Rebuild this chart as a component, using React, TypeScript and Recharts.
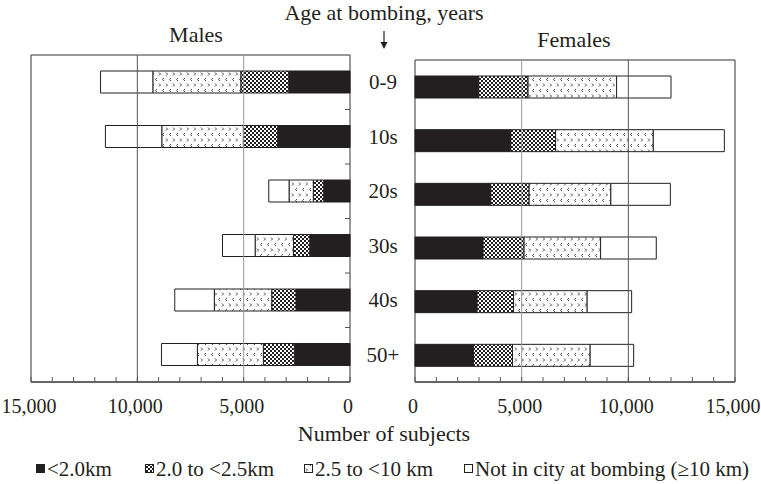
import { BarChart, Bar, XAxis, YAxis, ReferenceLine, ReferenceArea } from 'recharts';

// age at bombing groups (top to bottom)
const ageGroups = ['0-9', '10s', '20s', '30s', '40s', '50+'];

// males, by distance from hypocenter
const maleLt20 = [2880, 3400, 1235, 1890, 2540, 2600];
const male20to25 = [2255, 1615, 490, 770, 1140, 1475];
const male25to10 = [4135, 3835, 1140, 1800, 2700, 3100];
const maleNic = [2460, 2650, 955, 1535, 1860, 1690];

// females
const femaleLt20 = [2990, 4490, 3550, 3190, 2910, 2740];
const female20to25 = [2310, 2100, 1800, 1925, 1710, 1830];
const female25to10 = [4150, 4580, 3830, 3585, 3450, 3640];
const femaleNic = [2550, 3330, 2790, 2610, 2085, 2040];

const xTicks = [0, 1000, 2000, 3000, 4000, 5000, 6000, 7000, 8000, 9000, 10000, 11000, 12000, 13000, 14000, 15000];

const legendItems = [
  { label: '<2.0km', fill: '#231f20' },
  { label: '2.0 to <2.5km', fill: 'url(#hatch)' },
  { label: '2.5 to <10 km', fill: 'url(#chevron)' },
  { label: 'Not in city at bombing (\u226510 km)', fill: '#fff' },
];

const maleData = ageGroups.map((age, i) => ({
  age, lt20: maleLt20[i], d2025: male20to25[i], d2510: male25to10[i], nic: maleNic[i],
}));
const femaleData = ageGroups.map((age, i) => ({
  age, lt20: femaleLt20[i], d2025: female20to25[i], d2510: female25to10[i], nic: femaleNic[i],
}));

const ink = '#231f20';
const FONT = '"Liberation Serif", "Times New Roman", Times, serif';

// left chart layout
const M_H = 440;
const M_MARGIN = { top: 55, right: 0, bottom: 18, left: 31 };
const X_AXIS_H = 40;
const M_PLOT_H = M_H - M_MARGIN.top - M_MARGIN.bottom - X_AXIS_H;

const XTick = ({ x, y, payload }: any) => (
  <g>
    <line x1={x} y1={y} x2={x} y2={y - 5} stroke="#555" />
    {payload.value % 5000 === 0 && (
      <text x={x - 2} y={y + 31} textAnchor="middle" fontSize={20} fontFamily={FONT} fill={ink}>
        {payload.value.toLocaleString('en-US')}
      </text>
    )}
  </g>
);

// age label in the gap, plus a short inward tick on the band's upper edge
const AgeTick = ({ x, y, payload }: any) => {
  const idx = ageGroups.indexOf(payload.value);
  const band = M_PLOT_H / ageGroups.length;
  const edge = y - band / 2;
  return (
    <g>
      {idx > 0 && <line x1={x - 5} y1={edge} x2={x} y2={edge} stroke="#555" />}
      <text x={x + 33} y={y + 7} textAnchor="middle" fontSize={21} fontFamily={FONT} fill={ink}>
        {payload.value}
      </text>
    </g>
  );
};

const bars = [
  <Bar key="a" dataKey="lt20" stackId="s" fill={ink} stroke={ink} barSize={22} isAnimationActive={false} />,
  <Bar key="b" dataKey="d2025" stackId="s" fill="url(#hatch)" stroke={ink} barSize={22} isAnimationActive={false} />,
  <Bar key="c" dataKey="d2510" stackId="s" fill="url(#chevron)" stroke={ink} barSize={22} isAnimationActive={false} />,
  <Bar key="d" dataKey="nic" stackId="s" fill="#fff" stroke={ink} barSize={22} isAnimationActive={false} />,
];

const App = () => {
  return (
    <div style={{ position: 'absolute', left: 0, top: 0, width: 761, height: 484, background: '#fff', fontFamily: FONT }}>
      <svg width={0} height={0} style={{ position: 'absolute' }}>
        <defs>
          <pattern id="hatch" width={4} height={4} patternUnits="userSpaceOnUse">
            <rect width={4} height={4} fill="#fff" />
            <rect x={0} y={0} width={2} height={2} fill={ink} />
            <rect x={2} y={2} width={2} height={2} fill={ink} />
          </pattern>
          <pattern id="chevron" width={7} height={11} patternUnits="userSpaceOnUse">
            <rect width={7} height={11} fill="#fff" />
            <polyline points="3,1 1.5,2.5 3,4" fill="none" stroke="#333" strokeWidth={0.9} />
            <polyline points="5,6.5 6.5,8 5,9.5" fill="none" stroke="#333" strokeWidth={0.9} />
          </pattern>
        </defs>
      </svg>

      <div style={{ position: 'absolute', left: 0, top: 0 }}>
        <BarChart width={415} height={M_H} data={maleData} layout="vertical" margin={M_MARGIN}>
          <XAxis
            type="number"
            domain={[0, 15000]}
            ticks={xTicks}
            reversed
            interval={0}
            height={X_AXIS_H}
            tickLine={false}
            tickSize={0}
            tickMargin={0}
            axisLine={{ stroke: '#333' }}
            tick={<XTick />}
          />
          <YAxis
            type="category"
            dataKey="age"
            orientation="right"
            width={65}
            interval={0}
            axisLine={false}
            tickLine={false}
            tickSize={0}
            tickMargin={0}
            tick={<AgeTick />}
          />
          <ReferenceLine x={5000} stroke="#9a9a9a" />
          <ReferenceLine x={10000} stroke="#555" />
          <ReferenceArea x1={0} x2={15000} fill="none" stroke="#333" />
          {bars}
        </BarChart>
      </div>

      <div style={{ position: 'absolute', left: 405, top: 0 }}>
        <BarChart
          width={356}
          height={440}
          data={femaleData}
          layout="vertical"
          margin={{ top: 60, right: 26, bottom: 18, left: 10 }}
        >
          <XAxis
            type="number"
            domain={[0, 15000]}
            ticks={xTicks}
            interval={0}
            height={X_AXIS_H}
            tickLine={false}
            tickSize={0}
            tickMargin={0}
            axisLine={{ stroke: '#333' }}
            tick={<XTick />}
          />
          <YAxis type="category" dataKey="age" hide />
          <ReferenceLine x={5000} stroke="#9a9a9a" />
          <ReferenceLine x={10000} stroke="#555" />
          <ReferenceArea x1={0} x2={15000} fill="none" stroke="#333" />
          {bars}
        </BarChart>
      </div>

      <svg width={761} height={484} fontFamily={FONT} style={{ position: 'absolute', left: 0, top: 0, pointerEvents: 'none' }}>
        <text x={384} y={20} textAnchor="middle" fontSize={22} fill={ink}>Age at bombing, years</text>
        <text x={196} y={42} textAnchor="middle" fontSize={22} fill={ink}>Males</text>
        <text x={574} y={47} textAnchor="middle" fontSize={22} fill={ink}>Females</text>
        <line x1={384} y1={31} x2={384} y2={44} stroke={ink} strokeWidth={1.2} />
        <polygon points="380.5,42 387.5,42 384,49" fill={ink} />
        <text x={384} y={441} textAnchor="middle" fontSize={22} fill={ink}>Number of subjects</text>
        {legendItems.map((item, i) => {
          const xs = [36, 145, 304, 464];
          return (
            <g key={item.label}>
              <rect x={xs[i] + 0.5} y={464.5} width={8} height={8} fill={item.fill} stroke={ink} />
              <text x={xs[i] + 11} y={476} fontSize={21} fill={ink}>{item.label}</text>
            </g>
          );
        })}
      </svg>
    </div>
  );
};

export default App;
